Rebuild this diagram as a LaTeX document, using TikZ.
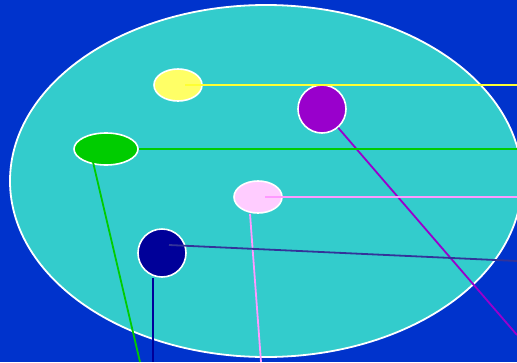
\documentclass[tikz,border=0pt]{standalone}
\usetikzlibrary{shapes.geometric}
\begin{document}
\begin{tikzpicture}[x=1pt,y=-1pt,
  blob/.style={draw=white,line width=1.6pt,inner sep=0pt},
  oval/.style={blob,ellipse,minimum width=#1,minimum height=32pt},
  disc/.style={blob,circle,minimum size=48pt},
  link/.style={line width=1.8pt}]
\definecolor{bg}{HTML}{0033CC}
\definecolor{cyanfill}{HTML}{33CCCC}
\definecolor{yel}{HTML}{FFFF66}
\definecolor{yelline}{HTML}{FFFF33}
\definecolor{purp}{HTML}{9900CC}
\definecolor{grn}{HTML}{00CC00}
\definecolor{pinkf}{HTML}{FFCCFF}
\definecolor{pinkl}{HTML}{FF99FF}
\definecolor{navy}{HTML}{000099}
\definecolor{navyl}{HTML}{333399}
\fill[bg] (0,0) rectangle (517,362);
\useasboundingbox (0,0) rectangle (517,362);
\draw[white,line width=1.8pt,fill=cyanfill] (266,181) ellipse [x radius=256, y radius=176];
% nodes
\node[oval=48pt,fill=yel] (y) at (178,85) {};
\node[disc,fill=purp] (p) at (322,109) {};
\node[oval=64pt,fill=grn] (g) at (106,149) {};
\node[oval=48pt,fill=pinkf] (k) at (258,197) {};
\node[disc,fill=navy] (n) at (162,253) {};
% free ends
\coordinate (ye) at (517,85);
\coordinate (pe) at (517,335);
\coordinate (ge) at (517,149);
\coordinate (gd) at (140,362);
\coordinate (ke) at (517,197);
\coordinate (kd) at (261,362);
\coordinate (ne) at (517,261);
\coordinate (nd) at (153,362);
% connectors
\draw[link,yelline] ([xshift=7pt]y.center) -- (ye);
\draw[link,purp] (p) -- (pe);
\draw[link,grn] (g.east) -- (ge);
\draw[link,grn] ([xshift=-13pt,yshift=-13pt]g.center) -- (gd);
\draw[link,pinkl] ([xshift=7pt]k.center) -- (ke);
\draw[link,pinkl] ([xshift=-8pt]k.south) -- (kd);
\draw[link,navyl] ([xshift=7pt,yshift=8pt]n.center) -- (ne);
\draw[link,navy] ([xshift=-9pt]n.south) -- (nd);
\end{tikzpicture}
\end{document}
